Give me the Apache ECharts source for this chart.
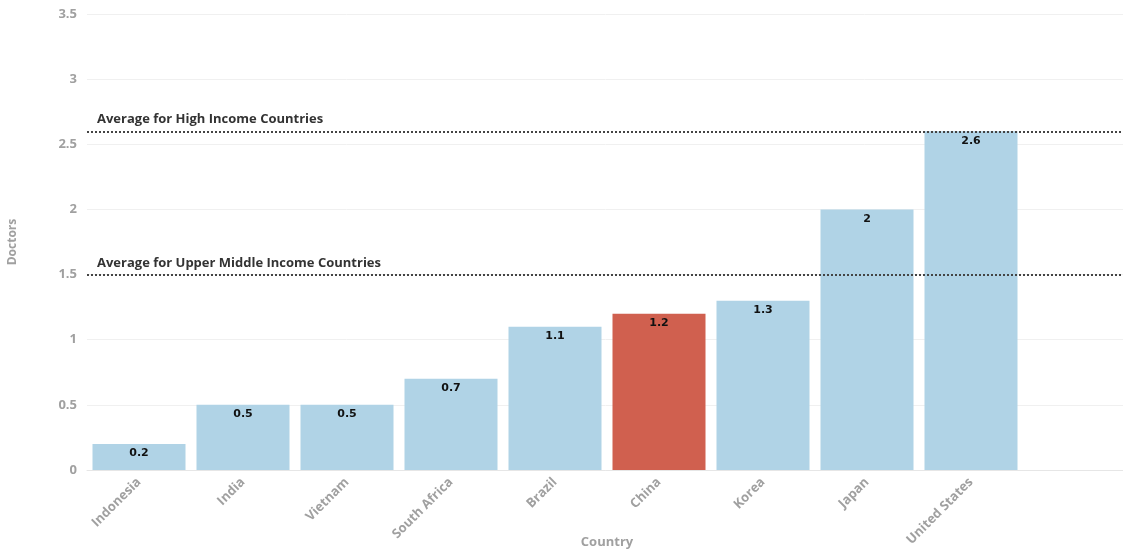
<!DOCTYPE html>
<html>
<head>
<meta charset="utf-8">
<script src="https://cdn.jsdelivr.net/npm/echarts@6/dist/echarts.min.js"></script>
<style>
  html, body { margin: 0; padding: 0; background: #fff; }
  #chart { width: 1123px; height: 553px; }
</style>
</head>
<body>
<div id="chart"></div>
<script>
// categories (last slot is empty on the original axis)
const countries = ["Indonesia", "India", "Vietnam", "South Africa", "Brazil", "China", "Korea", "Japan", "United States", ""];
const doctors = [0.2, 0.5, 0.5, 0.7, 1.1, 1.2, 1.3, 2, 2.6, null];
const highlight = "China";

const avgLines = [
    { name: "Average for High Income Countries", value: 2.6 },
    { name: "Average for Upper Middle Income Countries", value: 1.5 }
];

const blue = "#b0d3e6";
const red = "#d0604f";
const font = "'Open Sans', 'Noto Sans', sans-serif";

let chart = echarts.init(document.getElementById("chart"));

let barData = countries.map((c, i) => ({
    value: doctors[i],
    itemStyle: { color: c === highlight ? red : blue }
}));

let option = {
    animation: false,
    textStyle: { fontFamily: font },
    grid: { left: 87, right: -4, top: 14, bottom: 83, containLabel: false, outerBoundsMode: "none" },
    xAxis: {
        type: "category",
        data: countries,
        name: "Country",
        nameLocation: "middle",
        nameGap: 66,
        nameMoveOverlap: false,
        nameTextStyle: { color: "#a0a0a0", fontWeight: "bold", fontSize: 13, fontFamily: font },
        axisLine: { lineStyle: { color: "#e6e6e6" } },
        axisTick: { alignWithLabel: true, length: 6, lineStyle: { color: "#d8d8d8" } },
        axisLabel: {
            rotate: 45,
            color: "#a0a0a0",
            fontWeight: "bold",
            fontSize: 13,
            margin: 10,
            fontFamily: font
        }
    },
    yAxis: {
        type: "value",
        min: 0,
        max: 3.5,
        interval: 0.5,
        name: "Doctors",
        nameLocation: "middle",
        nameGap: 68,
        nameTextStyle: { color: "#a0a0a0", fontWeight: "bold", fontSize: 12, fontFamily: font },
        axisLine: { show: false },
        axisTick: { show: false },
        axisLabel: { color: "#a0a0a0", fontWeight: "bold", fontSize: 13, margin: 10, fontFamily: font },
        splitLine: { lineStyle: { color: "#f0f0f0" } }
    },
    series: [
        {
            type: "bar",
            data: barData,
            barWidth: 93,
            label: {
                show: true,
                position: "insideTop",
                distance: 4,
                color: "#111",
                fontWeight: "bold",
                fontSize: 11,
                fontFamily: "'DejaVu Sans', sans-serif"
            },
            markLine: {
                silent: true,
                symbol: ["none", "none"],
                lineStyle: { type: "dotted", color: "#444", width: 2 },
                label: {
                    position: "insideStartTop",
                    distance: [10, 5],
                    color: "#333",
                    fontWeight: "bold",
                    fontSize: 13,
                    fontFamily: font,
                    formatter: p => p.name
                },
                data: avgLines.map(a => ({ name: a.name, yAxis: a.value }))
            }
        }
    ]
};

chart.setOption(option);
</script>
</body>
</html>
